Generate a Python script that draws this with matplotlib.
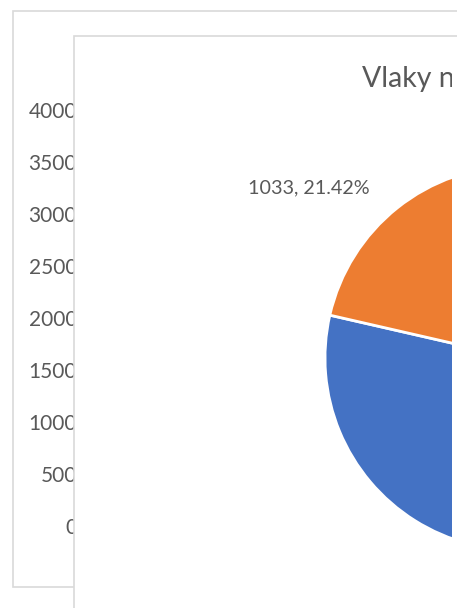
import matplotlib
matplotlib.use("Agg")
import matplotlib.pyplot as plt
from matplotlib.patches import Rectangle
from matplotlib.transforms import Bbox, TransformedBbox

plt.rcParams['font.family'] = ['Lato', 'DejaVu Sans']

# back chart (only its value axis is visible)
back_ticks = [0, 500, 1000, 1500, 2000, 2500, 3000, 3500, 4000]
back_tick_labels = [str(t) for t in back_ticks]

# front pie chart
pie_title = "Vlaky n"
pie_values = [3790, 1033]
pie_colors = ['#4472C4', '#ED7D31']

W, H = 457, 608
DPI = 100
fig = plt.figure(figsize=(W / DPI, H / DPI), dpi=DPI)
fig.patch.set_facecolor('white')

def fx(px):
    return px / W

def fy(py):  # py measured from top
    return 1 - py / H

text_col = '#595959'
border_col = '#D9D9D9'

clipbox = TransformedBbox(Bbox.from_extents(0, 0, fx(452), 1), fig.transFigure)

# back chart border
fig.add_artist(Rectangle((fx(12.5), fy(587)), fx(600), (587 - 10.5) / H,
                         transform=fig.transFigure, facecolor='white',
                         edgecolor=border_col, linewidth=1.2, zorder=-2))

# back chart axes (y tick labels)
ax_back = fig.add_axes([fx(84), fy(526), fx(360), (526 - 110) / H])
ax_back.set_zorder(0)
ax_back.patch.set_visible(False)
ax_back.set_ylim(0, 4000)
ax_back.set_yticks(back_ticks)
ax_back.set_yticklabels(back_tick_labels, fontsize=15, color=text_col)
ax_back.tick_params(axis='y', length=0, pad=5)
ax_back.set_xticks([])
for s in ax_back.spines.values():
    s.set_visible(False)

# front chart area
fig.add_artist(Rectangle((fx(73.5), fy(700)), fx(600), (700 - 35.5) / H,
                         transform=fig.transFigure, facecolor='white',
                         edgecolor=border_col, linewidth=1.2, zorder=1))

# pie axes
cx, cy, r = 517, 358, 192
ax_pie = fig.add_axes([fx(cx - r), fy(cy + r), 2 * r / W, 2 * r / H])
ax_pie.set_zorder(2)
ax_pie.patch.set_visible(False)
wedges, _ = ax_pie.pie(pie_values, colors=pie_colors, startangle=90,
                       counterclock=False,
                       wedgeprops=dict(edgecolor='white', linewidth=2))
for w in wedges:
    w.set_clip_box(clipbox)
    w.set_clip_on(True)
ax_pie.set_xlim(-1, 1)
ax_pie.set_ylim(-1, 1)
ax_pie.set_aspect('auto')
ax_pie.axis('off')

total = sum(pie_values)
lab = f"{pie_values[1]}, {pie_values[1] / total * 100:.2f}%"
fig.text(fx(248), fy(193), lab, fontsize=14.2, color=text_col,
         ha='left', va='baseline', zorder=3)

t = fig.text(fx(362), fy(87), pie_title, fontsize=20.5, color=text_col,
             ha='left', va='baseline', zorder=3)
t.set_clip_box(clipbox)
t.set_clip_on(True)

fig.savefig('out.png', dpi=DPI, facecolor='white')
